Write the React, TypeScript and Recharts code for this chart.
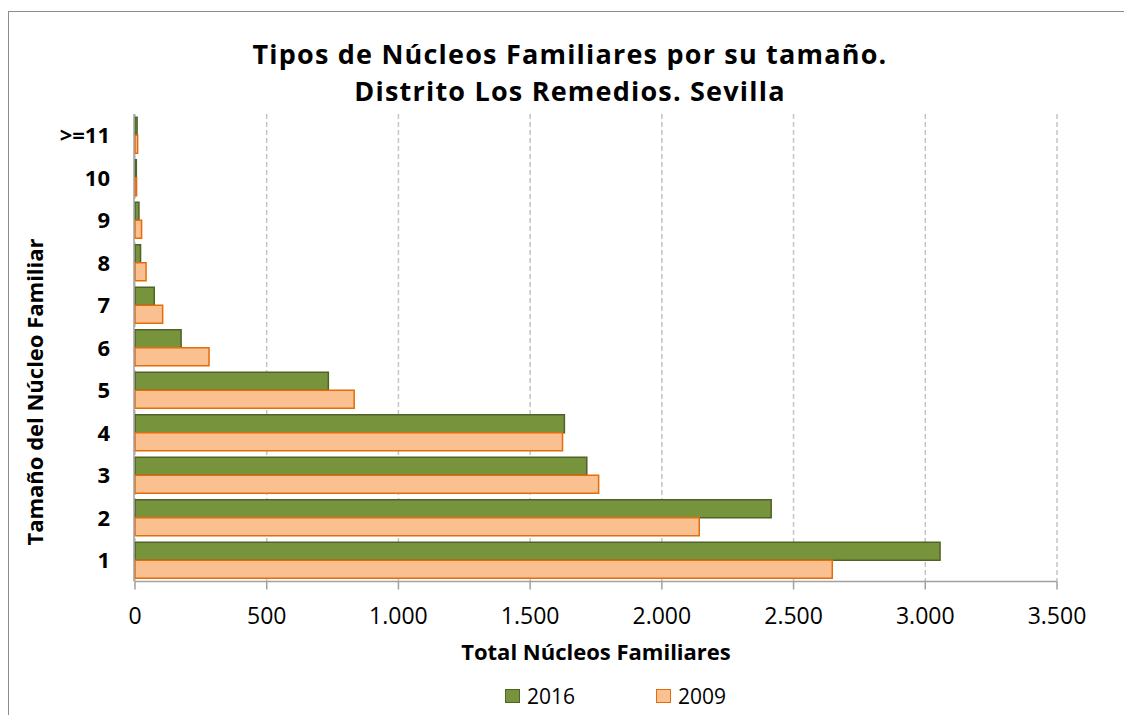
import React from 'react';
import {
  Bar,
  BarChart,
  CartesianGrid,
  Legend,
  XAxis,
  YAxis,
} from 'recharts';

// family size categories, bottom to top as shown on the chart
const sizes: string[] = ['1', '2', '3', '4', '5', '6', '7', '8', '9', '10', '>=11'];
const nucleos2016: number[] = [3056, 2415, 1715, 1630, 734, 175, 73, 21, 15, 5, 8];
const nucleos2009: number[] = [2647, 2142, 1760, 1623, 832, 281, 105, 42, 25, 6, 10];
const xTicks: number[] = [0, 500, 1000, 1500, 2000, 2500, 3000, 3500];
const edgeTicks: number[] = [0, 1, 2, 3, 4, 5, 6, 7, 8, 9, 10, 11];
const seriesOrder: string[] = ['y2016', 'y2009'];
const titleLines: string[] = [
  'Tipos de Núcleos Familiares por su tamaño.',
  'Distrito Los Remedios. Sevilla',
];

// recharts draws the first row at the top in a vertical layout
const data = sizes
  .map((size, i) => ({ size, y2016: nucleos2016[i], y2009: nucleos2009[i] }))
  .reverse();

const FONT = '"Open Sans", Lato, sans-serif';
const AXIS_COLOR = '#A0A0A0';

const seriesStyle: Record<string, { fill: string; stroke: string }> = {
  y2016: { fill: '#77933C', stroke: '#4F6228' },
  y2009: { fill: '#FAC090', stroke: '#E46C0A' },
};

const formatThousands = (v: number): string =>
  String(v).replace(/\B(?=(\d{3})+(?!\d))/g, '.');

function LegendContent(props: any) {
  const payload = [...(props.payload ?? [])].sort(
    (a: any, b: any) => seriesOrder.indexOf(a.dataKey) - seriesOrder.indexOf(b.dataKey),
  );
  return (
    <div
      style={{
        display: 'flex',
        alignItems: 'center',
        paddingLeft: 505,
        fontFamily: FONT,
        fontSize: 21,
        color: '#000',
      }}
    >
      {payload.map((entry: any, idx: number) => {
        const s = seriesStyle[entry.dataKey];
        return (
          <div
            key={entry.dataKey}
            style={{
              display: 'flex',
              alignItems: 'center',
              marginRight: idx === 0 ? 81 : 0,
            }}
          >
            <span
              style={{
                display: 'inline-block',
                width: 15,
                height: 14,
                boxSizing: 'border-box',
                background: s.fill,
                border: `1.5px solid ${s.stroke}`,
                marginRight: 7,
              }}
            />
            <span>{entry.value}</span>
          </div>
        );
      })}
    </div>
  );
}

export default function App() {
  return (
    <div style={{ position: 'relative', width: 1124, height: 707 }}>
      <div
        style={{
          position: 'absolute',
          left: -8,
          top: -8,
          width: 1132,
          height: 715,
          background: '#fff',
        }}
      >
        <div
          style={{
            position: 'absolute',
            left: 8,
            top: 11,
            width: 1124,
            height: 704,
            boxSizing: 'border-box',
            borderTop: '1.5px solid #8C8C8C',
            borderLeft: '1.5px solid #8C8C8C',
          }}
        />
        {titleLines.map((line, i) => (
          <div
            key={line}
            style={{
              position: 'absolute',
              left: 170,
              top: 35 + i * 37,
              width: 800,
              height: 37,
              textAlign: 'center',
              fontFamily: FONT,
              fontWeight: 700,
              fontSize: 27,
              letterSpacing: 1.2,
              lineHeight: '37px',
              color: '#000',
              zIndex: 2,
            }}
          >
            {line}
          </div>
        ))}
        <div style={{ position: 'absolute', left: 0, top: 0 }}>
          <BarChart
            width={1132}
            height={715}
            data={data}
            layout="vertical"
            barCategoryGap="7.6%"
            barGap={0}
            margin={{ top: 114, right: 75, bottom: 53.5, left: 133 }}
          >
            <CartesianGrid
              horizontal={false}
              stroke="#C4C4C4"
              strokeDasharray="5 3"
              strokeWidth={1.5}
            />
            <XAxis
              type="number"
              domain={[0, 3500]}
              ticks={xTicks}
              tickFormatter={formatThousands}
              height={80}
              tickSize={8}
              tickMargin={18}
              stroke={AXIS_COLOR}
              strokeWidth={1.5}
              tick={{ fill: '#000', fontFamily: FONT, fontSize: 23 }}
              label={{
                value: 'Total Núcleos Familiares',
                position: 'insideBottom',
                offset: 2,
                fill: '#000',
                fontFamily: FONT,
                fontSize: 22,
                fontWeight: 700,
              }}
            />
            <YAxis
              yAxisId="edge"
              type="number"
              domain={[0, 11]}
              ticks={edgeTicks}
              width={1}
              tick={false}
              tickSize={8}
              stroke={AXIS_COLOR}
              strokeWidth={1.5}
            />
            <YAxis
              yAxisId="cat"
              type="category"
              dataKey="size"
              width={1}
              axisLine={false}
              tickLine={false}
              tickSize={0}
              tickMargin={25}
              tick={{ fill: '#000', fontFamily: FONT, fontSize: 22, fontWeight: 700 }}
              label={{
                content: () => (
                  <text
                    x={43}
                    y={392}
                    transform="rotate(-90, 43, 392)"
                    textAnchor="middle"
                    fontFamily={FONT}
                    fontSize={22}
                    fontWeight={700}
                    fill="#000"
                  >
                    Tamaño del Núcleo Familiar
                  </text>
                ),
              }}
            />
            <Legend
              content={<LegendContent />}
              wrapperStyle={{ top: 682, left: 0, width: 1132, height: 0 }}
            />
            <Bar
              yAxisId="cat"
              dataKey="y2016"
              name="2016"
              fill={seriesStyle.y2016.fill}
              stroke={seriesStyle.y2016.stroke}
              strokeWidth={1.5}
              isAnimationActive={false}
            />
            <Bar
              yAxisId="cat"
              dataKey="y2009"
              name="2009"
              fill={seriesStyle.y2009.fill}
              stroke={seriesStyle.y2009.stroke}
              strokeWidth={1.5}
              isAnimationActive={false}
            />
          </BarChart>
        </div>
      </div>
    </div>
  );
}
